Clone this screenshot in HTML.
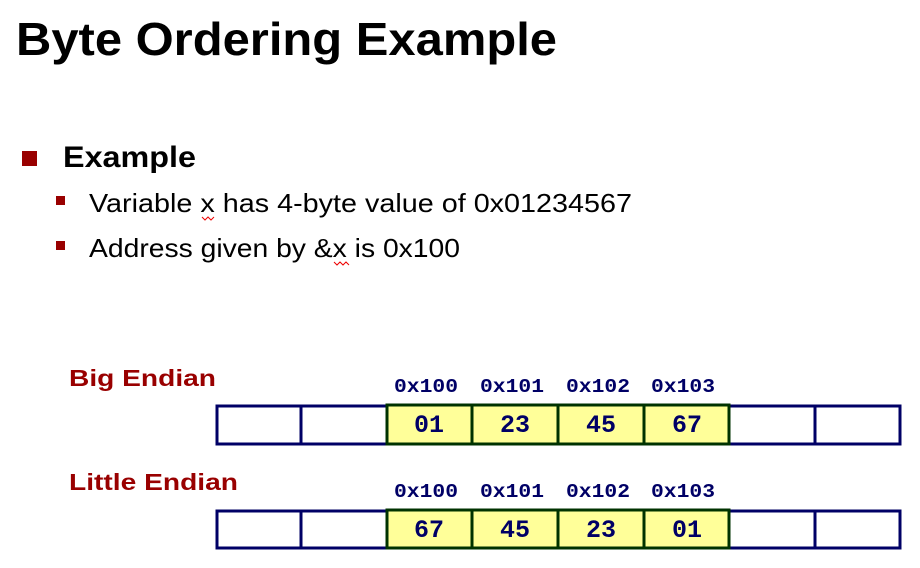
<!DOCTYPE html>
<html><head><meta charset="utf-8"><style>
html,body{margin:0;padding:0;background:#fff;}
svg{display:block;}
</style></head><body>
<svg width="920" height="568" viewBox="0 0 920 568" xmlns="http://www.w3.org/2000/svg">
<text x="16" y="55" font-family="Liberation Sans, sans-serif" font-weight="bold" font-size="46" textLength="541" lengthAdjust="spacingAndGlyphs">Byte Ordering Example</text>
<rect x="22" y="151" width="15" height="15" fill="#990000"/>
<text x="63" y="167" font-family="Liberation Sans, sans-serif" font-weight="bold" font-size="30" textLength="133" lengthAdjust="spacingAndGlyphs">Example</text>
<rect x="56" y="196" width="9" height="9" fill="#990000"/>
<text x="89" y="212" font-family="Liberation Sans, sans-serif" font-size="26" textLength="543" lengthAdjust="spacingAndGlyphs">Variable x has 4-byte value of 0x01234567</text>
<rect x="56" y="241" width="9" height="9" fill="#990000"/>
<text x="89" y="257" font-family="Liberation Sans, sans-serif" font-size="26" textLength="371" lengthAdjust="spacingAndGlyphs">Address given by &amp;x is 0x100</text>
<path d="M202 217 l3 3 l3 -3 l3 3 l3 -3" stroke="#e00" fill="none" stroke-width="1"/>
<path d="M334 262 l3 3 l3 -3 l3 3 l3 -3 l3 3" stroke="#e00" fill="none" stroke-width="1"/>
<text x="69" y="386" font-family="Liberation Sans, sans-serif" font-weight="bold" font-size="23" fill="#990000" textLength="147" lengthAdjust="spacingAndGlyphs">Big Endian</text>
<text x="69" y="490" font-family="Liberation Sans, sans-serif" font-weight="bold" font-size="23" fill="#990000" textLength="169" lengthAdjust="spacingAndGlyphs">Little Endian</text>
<g font-family="Liberation Mono, monospace" font-weight="bold" font-size="19" fill="#000066">
<text x="394" y="392" textLength="64" lengthAdjust="spacingAndGlyphs">0x100</text><text x="480" y="392" textLength="64" lengthAdjust="spacingAndGlyphs">0x101</text><text x="566" y="392" textLength="64" lengthAdjust="spacingAndGlyphs">0x102</text><text x="651" y="392" textLength="64" lengthAdjust="spacingAndGlyphs">0x103</text>
<text x="394" y="497" textLength="64" lengthAdjust="spacingAndGlyphs">0x100</text><text x="480" y="497" textLength="64" lengthAdjust="spacingAndGlyphs">0x101</text><text x="566" y="497" textLength="64" lengthAdjust="spacingAndGlyphs">0x102</text><text x="651" y="497" textLength="64" lengthAdjust="spacingAndGlyphs">0x103</text>
</g>
<g stroke="#000066" stroke-width="3" fill="none">
<rect x="217" y="406" width="683" height="38"/>
<line x1="301" y1="406" x2="301" y2="444"/><line x1="815" y1="406" x2="815" y2="444"/>
<rect x="217" y="511" width="683" height="37"/>
<line x1="301" y1="511" x2="301" y2="548"/><line x1="815" y1="511" x2="815" y2="548"/>
</g>
<g stroke="#003300" stroke-width="3" fill="#ffff99">
<rect x="387" y="405" width="342" height="39"/>
<rect x="387" y="510" width="342" height="38"/>
</g>
<g stroke="#003300" stroke-width="3">
<line x1="472" y1="405" x2="472" y2="444"/><line x1="558" y1="405" x2="558" y2="444"/><line x1="644" y1="405" x2="644" y2="444"/>
<line x1="472" y1="510" x2="472" y2="548"/><line x1="558" y1="510" x2="558" y2="548"/><line x1="644" y1="510" x2="644" y2="548"/>
</g>
<g font-family="Liberation Mono, monospace" font-weight="bold" font-size="25" fill="#000066" text-anchor="middle">
<text x="429" y="432">01</text><text x="515" y="432">23</text><text x="601" y="432">45</text><text x="687" y="432">67</text>
<text x="429" y="537">67</text><text x="515" y="537">45</text><text x="601" y="537">23</text><text x="687" y="537">01</text>
</g>
</svg>
</body></html>
